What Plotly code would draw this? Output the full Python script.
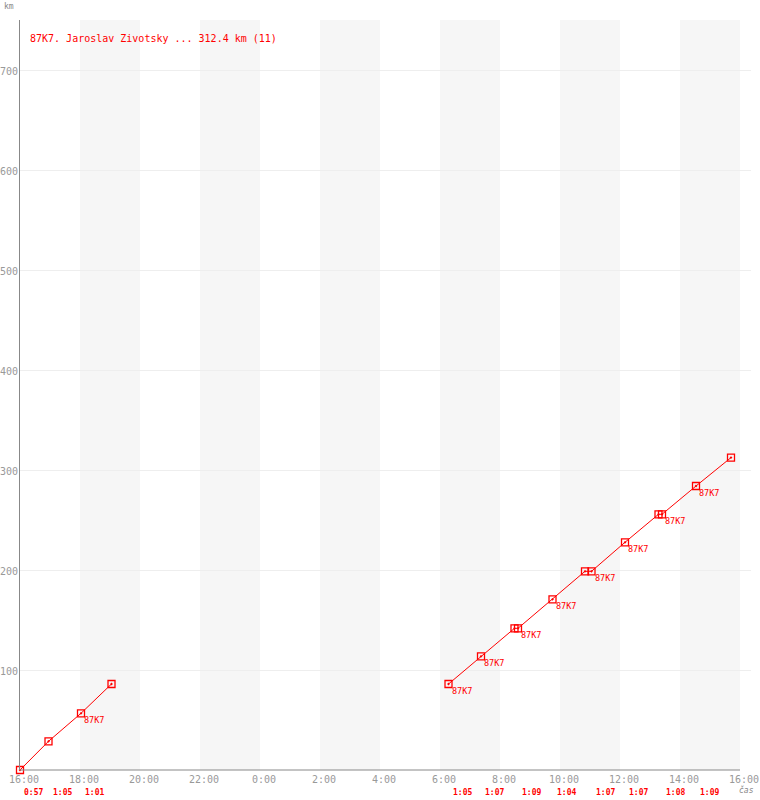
import plotly.graph_objects as go

# ---- data ----
seg1_time = ["2000-01-01 16:00", "2000-01-01 16:57", "2000-01-01 18:02", "2000-01-01 19:03"]
seg1_km = [0, 28.7, 56.7, 86.0]
seg1_lbl = ["", "", "87K7", ""]

seg2_time = ["2000-01-02 06:17", "2000-01-02 07:22", "2000-01-02 08:29", "2000-01-02 08:36",
             "2000-01-02 09:45", "2000-01-02 10:50", "2000-01-02 11:03", "2000-01-02 12:10",
             "2000-01-02 13:17", "2000-01-02 13:24", "2000-01-02 14:32", "2000-01-02 15:42"]
seg2_km = [86.0, 113.7, 141.7, 141.7, 170.7, 198.7, 198.7, 227.7, 255.7, 255.7, 284.0, 312.4]
seg2_lbl = ["87K7", "87K7", "", "87K7", "87K7", "", "87K7", "87K7", "", "87K7", "87K7", ""]

leg_start = ["2000-01-01 16:00", "2000-01-01 16:57", "2000-01-01 18:02",
             "2000-01-02 06:17", "2000-01-02 07:22", "2000-01-02 08:36", "2000-01-02 09:45",
             "2000-01-02 11:03", "2000-01-02 12:10", "2000-01-02 13:24", "2000-01-02 14:32"]
leg_dur = ["0:57", "1:05", "1:01", "1:05", "1:07", "1:09", "1:04", "1:07", "1:07", "1:08", "1:09"]

band_start = ["2000-01-01 18:00", "2000-01-01 22:00", "2000-01-02 02:00",
              "2000-01-02 06:00", "2000-01-02 10:00", "2000-01-02 14:00"]
band_end = ["2000-01-01 20:00", "2000-01-02 00:00", "2000-01-02 04:00",
            "2000-01-02 08:00", "2000-01-02 12:00", "2000-01-02 16:00"]

y_ticks = [100, 200, 300, 400, 500, 600, 700]
title_text = "87K7. Jaroslav Zivotsky ... 312.4 km (11)"

x_start = "2000-01-01 16:00"
x_end = "2000-01-02 16:00"

RED = "#ff0000"
GRAY = "#999999"
MONO = "DejaVu Sans Mono"

fig = go.Figure()
for t, k in [(seg1_time, seg1_km), (seg2_time, seg2_km)]:
    fig.add_trace(go.Scatter(
        x=t, y=k, mode="lines+markers",
        line=dict(color=RED, width=1),
        marker=dict(symbol="square-open-dot", size=7, color=RED, line=dict(width=1.3, color=RED)),
        hoverinfo="skip", showlegend=False, cliponaxis=False))

shapes = []
for a, b in zip(band_start, band_end):
    shapes.append(dict(type="rect", xref="x", yref="paper", x0=a, x1=b, y0=0, y1=1,
                       fillcolor="#f6f6f6", line=dict(width=0), layer="below"))
shapes.append(dict(type="line", xref="x", yref="paper", x0=x_start, x1=x_end, y0=0, y1=0,
                   line=dict(color="#888888", width=1)))

ann = []
for t, k, l in [(seg1_time, seg1_km, seg1_lbl), (seg2_time, seg2_km, seg2_lbl)]:
    for ti, ki, li in zip(t, k, l):
        if li:
            ann.append(dict(x=ti, y=ki, xref="x", yref="y", text=li, showarrow=False,
                            xanchor="left", yanchor="middle", xshift=1, yshift=-7,
                            font=dict(family=MONO, size=8.5, color=RED)))
for t, d in zip(leg_start, leg_dur):
    ann.append(dict(x=t, y=0, xref="x", yref="paper", text="<b>" + d + "</b>", showarrow=False,
                    xanchor="left", yanchor="middle", xshift=2, yshift=-22,
                    font=dict(family=MONO, size=8, color=RED)))
for v in y_ticks:
    ann.append(dict(x=0, y=v, xref="paper", yref="y", text=str(v), showarrow=False,
                    xanchor="right", yanchor="middle", xshift=0, yshift=-1,
                    font=dict(family=MONO, size=10, color=GRAY)))
ann.append(dict(x=0, y=1, xref="paper", yref="paper", text=title_text, showarrow=False,
                xanchor="left", yanchor="middle", xshift=8, yshift=-18,
                font=dict(family=MONO, size=10, color=RED)))
ann.append(dict(x=0, y=1, xref="paper", yref="paper", text="km", showarrow=False,
                xanchor="right", yanchor="middle", xshift=-4, yshift=14,
                font=dict(family=MONO, size=8, color="#888888")))
ann.append(dict(x=1, y=0, xref="paper", yref="paper", text="<i>čas</i>", showarrow=False,
                xanchor="right", yanchor="middle", xshift=5, yshift=-20,
                font=dict(family=MONO, size=8, color="#888888")))

fig.update_layout(
    width=760, height=800,
    margin=dict(l=20, r=9, t=20, b=30, autoexpand=False),
    paper_bgcolor="white", plot_bgcolor="white",
    shapes=shapes, annotations=ann,
    xaxis=dict(type="date", range=["2000-01-01 16:00", "2000-01-02 16:22"],
               tick0=x_start, dtick=7200000, tickformat="%-H:%M", automargin=False,
               showgrid=False, zeroline=False, showline=False, ticks="",
               ticklabelshift=4, ticklabelstandoff=2,
               tickfont=dict(family=MONO, size=10, color=GRAY)),
    yaxis=dict(range=[0, 750], tickvals=y_ticks, showgrid=True, gridcolor="#eeeeee",
               automargin=False, showticklabels=False,
               zeroline=False, showline=True, linecolor="#888888", linewidth=1, ticks=""),
)

fig.write_html("out.html", config={"displayModeBar": False},
               post_script="document.body.style.margin='0';document.body.style.overflow='hidden';")
